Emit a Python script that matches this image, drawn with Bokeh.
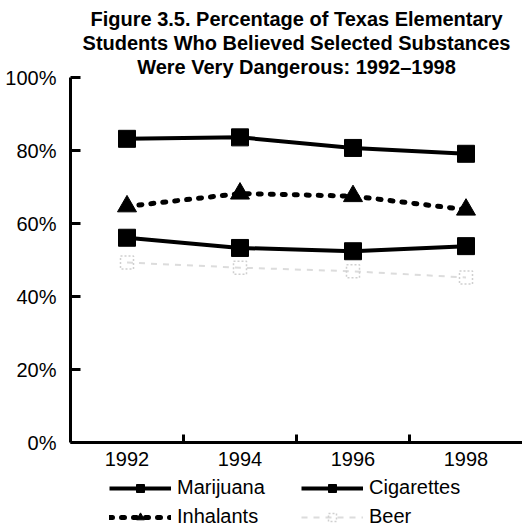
from bokeh.plotting import figure
from bokeh.layouts import column
from bokeh.models import (Range1d, FixedTicker, LinearAxis, Legend, LegendItem,
                          PrintfTickFormatter, Title)
from bokeh.embed import file_html
from bokeh.resources import INLINE

YEARS = ["1992", "1994", "1996", "1998"]
X = [0, 1, 2, 3]
MARIJUANA = [83.2, 83.6, 80.7, 79.1]
CIGARETTES = [56.1, 53.3, 52.4, 53.8]
INHALANTS = [64.7, 68.2, 67.5, 63.8]
BEER = [49.3, 47.9, 46.9, 45.2]
Y_TICKS = [0, 20, 40, 60, 80, 100]
SERIES_NAMES = ["Marijuana", "Cigarettes", "Inhalants", "Beer"]
TITLE_LINES = ["Figure 3.5. Percentage of Texas Elementary",
               "Students Who Believed Selected Substances",
               "Were Very Dangerous: 1992\u20131998"]
FONT = "Liberation Sans"

W = 522
H_MAIN = 468
H_LEG = 60

p = figure(width=W, height=H_MAIN, output_backend="svg", toolbar_location=None,
           x_range=Range1d(-0.5, 3.5), y_range=Range1d(0, 100),
           min_border_left=70, min_border_right=0, min_border_top=77,
           min_border_bottom=25, title=None)
p.outline_line_color = None
p.xgrid.visible = False
p.ygrid.visible = False

for line in reversed(TITLE_LINES):
    t = Title(text=line, align="center", text_font=FONT, text_font_size="20px",
              text_font_style="bold", text_color="black", text_line_height=1.2,
              standoff=0, offset=-11)
    p.add_layout(t, "above")

# y axis
ya = p.yaxis[0]
ya.ticker = FixedTicker(ticks=Y_TICKS)
ya.formatter = PrintfTickFormatter(format="%d%%")
ya.axis_line_width = 3
ya.major_tick_in = 10
ya.major_tick_out = 0
ya.major_tick_line_width = 3
ya.minor_tick_line_color = None
ya.major_label_text_font = FONT
ya.major_label_text_font_size = "20px"
ya.major_label_text_color = "black"
ya.major_label_standoff = 14

# x axis: boundary ticks
xa = p.xaxis[0]
xa.ticker = FixedTicker(ticks=[0.5, 1.5, 2.5])
xa.axis_line_width = 3
xa.major_tick_in = 8
xa.major_tick_out = 0
xa.major_tick_line_width = 3
xa.minor_tick_line_color = None
xa.major_label_text_font_size = "1px"
xa.major_label_text_alpha = 0
xa.major_label_standoff = 0

# x axis labels
xl = LinearAxis(ticker=FixedTicker(ticks=X),
                major_label_overrides={x: y for x, y in zip(X, YEARS)})
xl.axis_line_color = None
xl.major_tick_line_color = None
xl.minor_tick_line_color = None
xl.major_label_text_font = FONT
xl.major_label_text_font_size = "20px"
xl.major_label_text_color = "black"
xl.major_label_standoff = 3
p.add_layout(xl, "below")

STYLES = {
    "Marijuana": dict(line=dict(line_color="black", line_width=4),
                      marker=dict(marker="square", size=17, color="black")),
    "Cigarettes": dict(line=dict(line_color="black", line_width=4),
                       marker=dict(marker="square", size=17, color="black")),
    "Inhalants": dict(line=dict(line_color="black", line_width=5, line_dash="3 9", line_cap="round"),
                      marker=dict(marker="triangle", size=19, color="black")),
    "Beer": dict(line=dict(line_color="#dcdcdc", line_width=2, line_dash="6 6"),
                 marker=dict(marker="square", size=13, fill_color=None, line_color="#cfcfcf",
                             line_dash="2 2", line_width=1.5)),
}
DATA = {"Marijuana": MARIJUANA, "Cigarettes": CIGARETTES, "Inhalants": INHALANTS, "Beer": BEER}

for name in SERIES_NAMES:
    p.line(X, DATA[name], **STYLES[name]["line"])
    p.scatter(X, DATA[name], **STYLES[name]["marker"])

# legend figure (its renderers hold the same data but lie outside its view)
p2 = figure(width=W, height=H_LEG, output_backend="svg", toolbar_location=None,
            min_border=0, x_range=Range1d(100, 101), y_range=Range1d(1000, 1001))
p2.axis.visible = False
p2.grid.visible = False
p2.outline_line_color = None
items = {}
for name in SERIES_NAMES:
    st = dict(STYLES[name]["marker"])
    if name != "Beer":
        st["size"] = 14
    lr = p2.line(X, DATA[name], **STYLES[name]["line"])
    mr = p2.scatter(X, DATA[name], **st)
    items[name] = LegendItem(label=name, renderers=[lr, mr])

legend = Legend(items=[items["Marijuana"], items["Inhalants"], items["Cigarettes"], items["Beer"]],
                ncols=2, location=(39, 0))
legend.label_text_font = FONT
legend.label_text_font_size = "20px"
legend.label_text_color = "black"
legend.glyph_width = 62
legend.glyph_height = 20
legend.label_height = 22
legend.label_width = 118
legend.label_standoff = 6
legend.spacing = 6
legend.padding = 0
legend.margin = 0
legend.border_line_color = None
legend.background_fill_alpha = 0
p2.add_layout(legend)

open("out.html", "w").write(file_html(column(p, p2, spacing=0), INLINE))
